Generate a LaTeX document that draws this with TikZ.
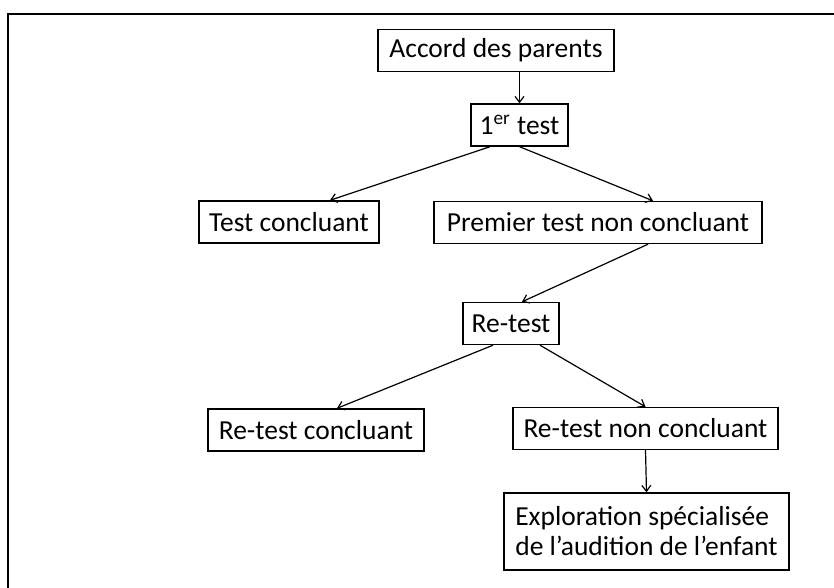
\documentclass[tikz,border=0pt]{standalone}
\usepackage{fontspec}
\setmainfont{Carlito}
\usetikzlibrary{positioning, arrows.meta, calc}

\begin{document}
\begin{tikzpicture}[x=0.5pt, y=-0.5pt,
        fl/.style={-{Straight Barb[length=3pt,width=4.5pt]}, line width=0.6pt},
        etape/.style={draw, line width=0.7pt, fill=white, inner sep=0pt, minimum height=21pt, align=center, font=\fontsize{13.75}{15}\selectfont},
    ]
        \useasboundingbox (0,0) rectangle (834,588);
        \draw[line width=0.9pt] (8,588) -- (8,14) -- (834,14);
        \node[etape, minimum width=118pt]  (A)  at (496,50.5)  {Accord des parents};
        \node[etape, minimum width=48.5pt] (T1) at (519.5,125) {1\textsuperscript{er} test};
        \node[etape, minimum width=90pt]   (TC) at (289,222)   {Test concluant};
        \node[etape, minimum width=164pt]  (TN) at (598,222.5) {Premier test non concluant};
        \node[etape, minimum width=48pt]   (R)  at (511,323.5) {Re-test};
        \node[etape, minimum width=108pt]  (RC) at (316,430)   {Re-test concluant};
        \node[etape, minimum width=132.5pt] (RN) at (645.5,428.5) {Re-test non concluant};
        \node[etape, minimum width=142.5pt, minimum height=38.5pt, align=left] (E) at (646.5,531.5) {Exploration spécialisée\\de l’audition de l’enfant};
        \draw[fl] (T1.north |- A.south) -- (T1.north);
        \draw[fl] ([xshift=-14.75pt]T1.south) -- ([xshift=20.5pt]TC.north);
        \draw[fl] (T1.south) -- ([xshift=27.5pt]TN.north);
        \draw[fl] ([xshift=25pt]TN.south) -- ([xshift=5.5pt]R.north);
        \draw[fl] ([xshift=-9pt]R.south) -- ([xshift=10.5pt]RC.north);
        \draw[fl] ([xshift=14.5pt]R.south) -- (RN.north);
        \draw[fl] (RN.south) -- (E.north);
    \end{tikzpicture}
\end{document}
